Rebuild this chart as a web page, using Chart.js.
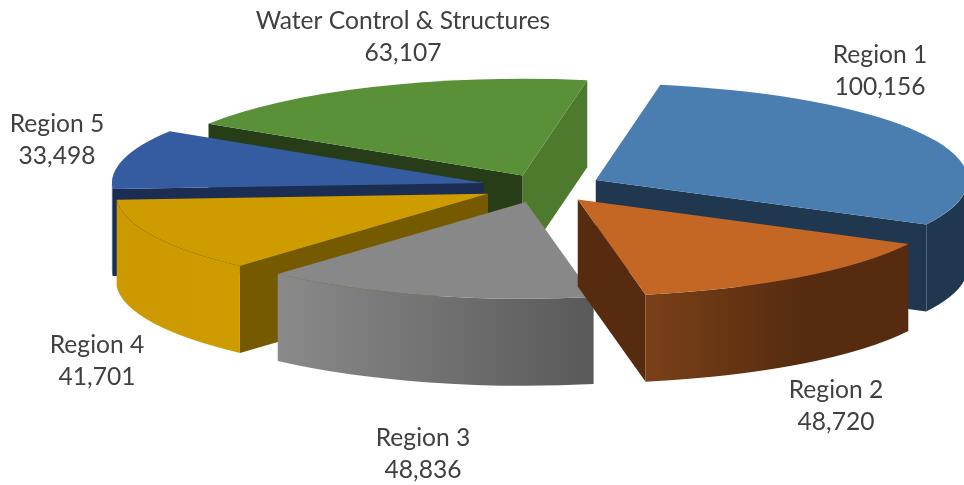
<!DOCTYPE html>
<html>
<head>
<meta charset="utf-8">
<style>html,body{margin:0;padding:0;background:#fff}canvas{display:block}</style>
<script src="https://cdn.jsdelivr.net/npm/chart.js@4"></script>
</head>
<body>
<canvas id="c" width="964" height="485"></canvas>
<script>
const categories = ["Region 1", "Region 2", "Region 3", "Region 4", "Region 5", "Water Control & Structures"];
const values = [100156, 48720, 48836, 41701, 33498, 63107];

const topColors = ["#4A7EB0", "#C46725", "#888888", "#CF9C00", "#355BA0", "#5A9138"];
const startWallColors = ["#1F3850", "#562B0F", "#5F5F5F", "#765A00", "#1B2D52", "#263D17"];
const endWallColors = ["#1F3850", "#562B0F", "#5F5F5F", "#765A00", "#1B2D52", "#4E7A2E"];
const outerWallFrom = ["#1F3850", "#7A4018", "#8A8A8A", "#CB9900", "#24427A", "#4E7A2E"];
const outerWallTo = ["#1F3850", "#562B0F", "#595959", "#CF9C00", "#24427A", "#4E7A2E"];
const explosion = [60, 60, 60, 60, 60, 48];
const paintOrder = [5, 4, 0, 3, 2, 1];
const labelCenters = [[880, 55], [836, 390], [423, 438], [97, 345], [57, 124], [403, 21]];

const TILT = 0.26, DEPTH = 87, LINE_GAP = 32;

const pie3d = {
  id: 'pie3d',
  beforeDatasetsDraw(chart) {
    const ctx = chart.ctx;
    const arcs = chart.getDatasetMeta(0).data;
    for (const i of paintOrder) {
      const el = arcs[i];
      const a0 = el.startAngle, a1 = el.endAngle, R = el.outerRadius;
      const mid = (a0 + a1) / 2, k = el.options.offset;
      const cx = el.x + Math.cos(mid) * k;
      const cy = el.y + Math.sin(mid) * k * TILT;
      const px = a => cx + R * Math.cos(a);
      const py = a => cy + R * TILT * Math.sin(a);
      const wall = (a, color) => {
        ctx.beginPath();
        ctx.moveTo(cx, cy);
        ctx.lineTo(px(a), py(a));
        ctx.lineTo(px(a), py(a) + DEPTH);
        ctx.lineTo(cx, cy + DEPTH);
        ctx.closePath();
        ctx.fillStyle = color;
        ctx.fill();
      };
      if (-Math.cos(a0) > 0) wall(a0, startWallColors[i]);
      if (Math.cos(a1) > 0) wall(a1, endWallColors[i]);
      // Outer rim: only the part that faces the viewer
      const TAU = Math.PI * 2;
      for (const shift of [-TAU, 0, TAU]) {
        const s = Math.max(a0 + shift, 0), e = Math.min(a1 + shift, Math.PI);
        if (e <= s) continue;
        const g = ctx.createLinearGradient(Math.min(px(s), px(e)), 0, Math.max(px(s), px(e)), 0);
        g.addColorStop(0, outerWallFrom[i]);
        g.addColorStop(i === 1 ? 0.6 : 1, outerWallTo[i]);
        if (i === 1) g.addColorStop(1, outerWallTo[i]);
        ctx.beginPath();
        ctx.ellipse(cx, cy, R, R * TILT, 0, s, e);
        ctx.ellipse(cx, cy + DEPTH, R, R * TILT, 0, e, s, true);
        ctx.closePath();
        ctx.fillStyle = g;
        ctx.fill();
      }
      // Top face
      ctx.beginPath();
      ctx.moveTo(cx, cy);
      ctx.ellipse(cx, cy, R, R * TILT, 0, a0, a1);
      ctx.closePath();
      ctx.fillStyle = el.options.backgroundColor;
      ctx.fill();
    }
    return false;
  },
  afterDraw(chart) {
    const ctx = chart.ctx;
    ctx.save();
    ctx.font = '24.6px Lato';
    ctx.fillStyle = '#404040';
    ctx.textAlign = 'center';
    ctx.textBaseline = 'middle';
    categories.forEach((name, i) => {
      const [x, y] = labelCenters[i];
      ctx.fillText(name, x, y);
      ctx.fillText(values[i].toLocaleString('en-US'), x, y + LINE_GAP);
    });
    ctx.restore();
  }
};

new Chart(document.getElementById('c'), {
  type: 'pie',
  plugins: [pie3d],
  data: {
    labels: categories,
    datasets: [{
      data: values,
      backgroundColor: topColors,
      borderWidth: 0,
      offset: explosion,
      radius: 372
    }]
  },
  options: {
    responsive: false,
    animation: false,
    rotation: 10,
    layout: { padding: { left: 120, bottom: 111 } },
    plugins: { legend: { display: false }, tooltip: { enabled: false } }
  }
});
</script>
</body>
</html>
